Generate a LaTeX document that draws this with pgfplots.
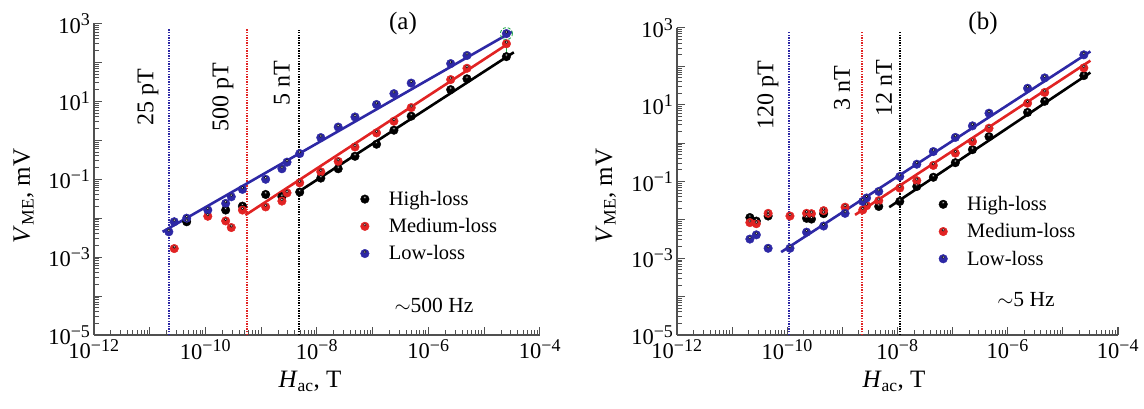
\documentclass[border=0pt]{standalone}
\usepackage{fontspec}
\setmainfont{Liberation Serif}
\usepackage{pgfplots}
\usepackage{pgfplotstable}
\pgfplotsset{compat=1.18}
\definecolor{cblue}{RGB}{45,40,165}
\definecolor{cred}{RGB}{225,35,35}
\definecolor{axgray}{RGB}{80,80,80}
\definecolor{cgreen}{RGB}{40,170,80}

\newcommand{\tp}[1]{10\textsuperscript{\fontsize{18}{18}\selectfont #1}}

% ---------- panel (a) data (H in T, V in mV) ----------
\pgfplotstableread{
x y
4.6e-11 8.1e-3
2.3e-10 1.62e-2
4.6e-10 2.04e-2
1.2e-9 4.07e-2
2.35e-9 3.55e-2
4.9e-9 4.68e-2
1.17e-8 0.107
2.4e-8 0.186
4.8e-8 0.389
1.17e-7 0.794
2.4e-7 1.82
4.9e-7 4.17
2.5e-6 20
4.9e-6 38
2.5e-5 141
}\aHigh
\pgfplotstableread{
x y
2.75e-11 1.66e-3
1.1e-10 1.12e-2
2.3e-10 8.5e-3
2.9e-10 5.75e-3
4.6e-10 1.62e-2
1.2e-9 1.95e-2
2.35e-9 2.75e-2
2.9e-9 4.47e-2
4.9e-9 8.1e-2
1.17e-8 0.155
2.4e-8 0.288
4.8e-8 0.676
1.17e-7 1.55
2.4e-7 3.09
4.9e-7 6.92
2.5e-6 36.3
4.9e-6 70.8
2.5e-5 302
}\aMed
\pgfplotstableread{
x y
2.2e-11 4.47e-3
2.75e-11 8.1e-3
4.6e-11 1.0e-2
1.1e-10 1.62e-2
2.3e-10 2.4e-2
2.9e-10 3.55e-2
4.6e-10 5.5e-2
1.2e-9 0.1
2.35e-9 0.186
2.9e-9 0.275
4.9e-9 0.457
1.17e-8 1.175
2.4e-8 2.19
4.8e-8 3.98
1.17e-7 8.32
2.4e-7 15.8
4.9e-7 29.5
2.5e-6 93.3
4.9e-6 151
2.5e-5 550
}\aLow
% ---------- panel (b) data ----------
\pgfplotstableread{
x y
2.1e-11 1.15e-2
2.75e-11 9.3e-3
4.5e-11 1.26e-2
2.24e-10 1.1e-2
2.75e-10 1.05e-2
4.57e-10 1.45e-2
4.57e-9 2.24e-2
1.1e-8 3.02e-2
2.24e-8 7.41e-2
4.47e-8 0.129
1.12e-7 0.309
2.29e-7 0.676
4.57e-7 1.48
2.29e-6 6.31
4.68e-6 12.3
2.4e-5 57.5
}\bHigh
\pgfplotstableread{
x y
2.1e-11 8.5e-3
2.75e-11 7.94e-3
4.5e-11 1.48e-2
1.12e-10 1.26e-2
2.24e-10 1.48e-2
2.75e-10 1.45e-2
4.57e-10 1.74e-2
1.12e-9 2.14e-2
2.34e-9 1.82e-2
2.75e-9 2.34e-2
4.57e-9 3.16e-2
1.1e-8 6.76e-2
2.24e-8 0.105
4.47e-8 0.263
1.12e-7 0.55
2.29e-7 1.10
4.57e-7 2.45
2.29e-6 11.0
4.68e-6 20.9
2.4e-5 91.2
}\bMed
\pgfplotstableread{
x y
2.1e-11 3.16e-3
2.75e-11 4.07e-3
4.5e-11 1.82e-3
1.12e-10 1.82e-3
2.24e-10 4.79e-3
4.57e-10 6.92e-3
1.12e-9 1.48e-2
2.34e-9 3.02e-2
2.75e-9 3.72e-2
4.57e-9 5.5e-2
1.1e-8 0.135
2.24e-8 0.282
4.47e-8 0.603
1.12e-7 1.41
2.29e-7 2.82
4.57e-7 6.03
2.29e-6 26.9
4.68e-6 50.1
2.4e-5 200
}\bLow

\tikzset{
 mypts/.style={mark=*, mark size=4.3pt, mark options={fill=#1, draw=#1}},
 myhl/.style={mark=*, mark size=1.3pt, mark options={fill=white, draw=none, fill opacity=0.8, yshift=1.6pt}},
 myfit/.style={draw=#1, line width=2.6pt},
 myvl/.style={draw=#1, line width=2.2pt, dash pattern=on 1.4pt off 1.2pt},
}

\pgfplotsset{
 every axis/.append style={
  xmode=log, ymode=log, scale only axis,
  xmin=1e-12, xmax=1e-4, ymin=1e-5, ymax=1e3,
  axis lines*=left,
  axis line style={line width=1.6pt, axgray},
  xtick={1e-12,1e-11,1e-10,1e-9,1e-8,1e-7,1e-6,1e-5,1e-4},
  xticklabels={{\tp{−12}},{},{\tp{−10}},{},{\tp{−8}},{},{\tp{−6}},{},{\tp{−4}}},
  ytick={1e-5,1e-4,1e-3,1e-2,1e-1,1,1e1,1e2,1e3},
  yticklabels={{\tp{−5}},{},{\tp{−3}},{},{\tp{−1}},{},{\tp{1}},{},{\tp{3}}},
  major tick length=8pt, minor tick length=5pt,
  every tick/.style={axgray, line width=1pt},
  tick label style={font=\fontsize{22.5}{24}\selectfont},
  xticklabel style={yshift=-1pt},
  clip=false,
  legend cell align=left,
  legend image code/.code={\path[draw=none, fill=none] (0pt,-5pt) rectangle (31pt,5pt);
     \draw[#1] plot coordinates {(9pt,0pt)};
     \draw[only marks, myhl] plot coordinates {(9pt,0pt)};},
  legend style={draw=none, fill=none, font=\fontsize{20.5}{24}\selectfont, row sep=7.5pt, anchor=north west},
 },
}

\begin{document}
\begin{tikzpicture}
\useasboundingbox (0,0) rectangle (1144pt,409pt);

% ---------------- panel (a) ----------------
\begin{axis}[at={(94pt,74pt)}, anchor=south west, width=446pt, height=311.5pt,
  legend style={at={(0.58,0.475)}}]
\addplot[myvl=cblue, forget plot] coordinates {(2.24e-11,1e-5) (2.24e-11,720)};
\addplot[myvl=cred, forget plot] coordinates {(5.5e-10,1e-5) (5.5e-10,720)};
\addplot[myvl=black, forget plot] coordinates {(4.8e-9,1e-5) (4.8e-9,700)};

\addplot[myfit=cblue, forget plot] coordinates {(1.7e-11,4.47e-3) (3.16e-5,616)};
\addplot[myfit=cred, forget plot] coordinates {(5.2e-10,1.2e-2) (2.8e-5,316)};
\addplot[myfit=black, forget plot] coordinates {(4.57e-9,4.68e-2) (3.39e-5,182)};

\addplot[only marks, mypts=black] table {\aHigh};
\addlegendentry{High-loss}
\addplot[only marks, mypts=cred] table {\aMed};
\addlegendentry{Medium-loss}
\addplot[only marks, mypts=cblue] table {\aLow};
\addlegendentry{Low-loss}
\addplot[only marks, myhl, forget plot] table {\aHigh};
\addplot[only marks, myhl, forget plot] table {\aMed};
\addplot[only marks, myhl, forget plot] table {\aLow};
\addplot[draw=cgreen, line width=1pt, forget plot] coordinates {(2.5e-5,160) (2.5e-5,300)};
\addplot[only marks, mark=o, mark size=6pt, mark options={draw=cgreen, densely dashed, line width=0.9pt}, forget plot] coordinates {(2.5e-5,550)};
\end{axis}

% ---------------- panel (b) ----------------
\begin{axis}[at={(677pt,74pt)}, anchor=south west, width=441pt, height=307pt,
  legend style={at={(0.576,0.465)}}]
\addplot[myvl=cblue, forget plot] coordinates {(1.07e-10,1e-5) (1.07e-10,800)};
\addplot[myvl=cred, forget plot] coordinates {(2.3e-9,1e-5) (2.3e-9,800)};
\addplot[myvl=black, forget plot] coordinates {(1.1e-8,1e-5) (1.1e-8,800)};

\addplot[myfit=cblue, forget plot] coordinates {(7.76e-11,1.45e-3) (3.16e-5,245)};
\addplot[myfit=cred, forget plot] coordinates {(1.7e-9,1.35e-2) (3.16e-5,141)};
\addplot[myfit=black, forget plot] coordinates {(7.08e-9,2.14e-2) (3.16e-5,69.2)};

\addplot[only marks, mypts=black] table {\bHigh};
\addlegendentry{High-loss}
\addplot[only marks, mypts=cred] table {\bMed};
\addlegendentry{Medium-loss}
\addplot[only marks, mypts=cblue] table {\bLow};
\addlegendentry{Low-loss}
\addplot[only marks, myhl, forget plot] table {\bHigh};
\addplot[only marks, myhl, forget plot] table {\bMed};
\addplot[only marks, myhl, forget plot] table {\bLow};
\end{axis}

% ---------------- text ----------------
\begin{scope}[every node/.style={inner sep=0pt}]
\node[rotate=90, font=\fontsize{24}{28}\selectfont] at (148pt,312pt) {25 pT};
\node[rotate=90, font=\fontsize{24}{28}\selectfont] at (223pt,312pt) {500 pT};
\node[rotate=90, font=\fontsize{24}{28}\selectfont] at (282pt,326pt) {5 nT};
\node[font=\fontsize{25}{28}\selectfont] at (403pt,386pt) {(a)};
\node[font=\fontsize{21.5}{24}\selectfont] at (434pt,104pt) {$\sim$500 Hz};
\node[rotate=90, anchor=base, font=\fontsize{25}{28}\selectfont] at (30pt,213pt) {\textit{V}\textsubscript{ME}, mV};
\node[anchor=base, font=\fontsize{25}{28}\selectfont] at (310pt,21pt) {\textit{H}\textsubscript{ac}, T};

\node[rotate=90, font=\fontsize{24}{28}\selectfont] at (768pt,314pt) {120 pT};
\node[rotate=90, font=\fontsize{24}{28}\selectfont] at (842pt,321pt) {3 nT};
\node[rotate=90, font=\fontsize{24}{28}\selectfont] at (884pt,321pt) {12 nT};
\node[font=\fontsize{25}{28}\selectfont] at (983pt,386pt) {(b)};
\node[font=\fontsize{21.5}{24}\selectfont] at (1026pt,109pt) {$\sim$5 Hz};
\node[rotate=90, anchor=base, font=\fontsize{25}{28}\selectfont] at (612pt,213pt) {\textit{V}\textsubscript{ME}, mV};
\node[anchor=base, font=\fontsize{25}{28}\selectfont] at (894pt,21pt) {\textit{H}\textsubscript{ac}, T};
\end{scope}
\end{tikzpicture}
\end{document}
